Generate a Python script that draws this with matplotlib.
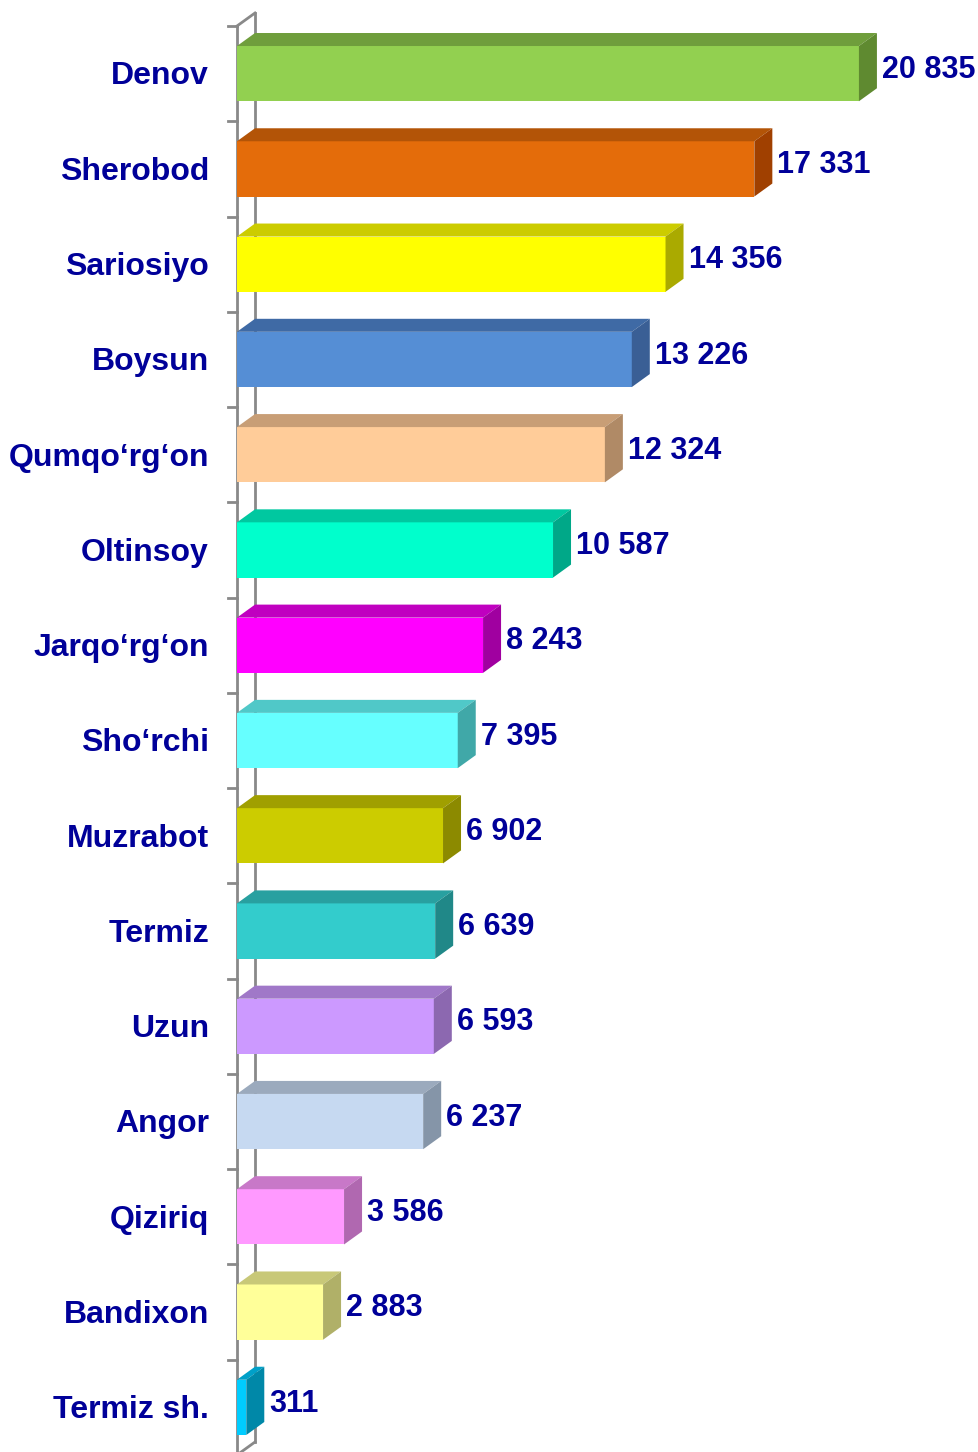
import numpy as np
import matplotlib.pyplot as plt
from matplotlib.patches import Polygon

plt.rcParams['font.family'] = ['Liberation Sans', 'DejaVu Sans']

districts = ['Denov', 'Sherobod', 'Sariosiyo', 'Boysun', 'Qumqo‘rg‘on', 'Oltinsoy',
             'Jarqo‘rg‘on', 'Sho‘rchi', 'Muzrabot', 'Termiz', 'Uzun', 'Angor',
             'Qiziriq', 'Bandixon', 'Termiz sh.']
values = [20835, 17331, 14356, 13226, 12324, 10587, 8243, 7395, 6902, 6639,
          6593, 6237, 3586, 2883, 311]
value_labels = ['20 835', '17 331', '14 356', '13 226', '12 324', '10 587', '8 243',
                '7 395', '6 902', '6 639', '6 593', '6 237', '3 586', '2 883', '311']
# front, top, side colours
front_colors = ['#92D050', '#E46C0A', '#FFFF00', '#558ED5', '#FFCC99', '#00FFCC',
                '#FF00FF', '#66FFFF', '#CCCC00', '#33CCCC', '#CC99FF', '#C6D9F1',
                '#FF99FF', '#FFFF99', '#00CCFF']
top_colors = ['#6F9E3C', '#B35407', '#CCCC00', '#3F6AA5', '#C89E76', '#00C8A0',
              '#C000C0', '#50C8C8', '#A09F00', '#28A0A0', '#A078C8', '#9BAABD',
              '#C878C8', '#C8C878', '#00A0C8']
side_colors = ['#5F8A30', '#A04000', '#AAAA00', '#3A5F95', '#B08A66', '#00A888',
               '#A000A0', '#40A8A8', '#8C8A00', '#208888', '#8C68B0', '#8595A8',
               '#B068B0', '#B0B068', '#0088A8']

navy = '#000099'
wall = '#898989'
W, H = 979, 1452
fig = plt.figure(figsize=(W / 100, H / 100), dpi=100)
ax = fig.add_axes([237 / W, -3 / H, 742 / W, 1429 / H])

n = len(values)
px = 0.02985             # pixels per unit
xmax = 742 / px
ax.set_xlim(0, xmax)
ax.set_ylim(n - 0.5, -0.5)
ax.axis('off')

dx = 18 / px             # depth in data units (x)
dy = 13 / (1429 / n)     # depth in data units (y)
h = 0.58

y = np.arange(n)
# wall
lw = 2.0
ax.plot([0, 0], [n - 0.5, -0.5], color=wall, lw=lw, clip_on=False, zorder=1)
ax.plot([dx, dx], [n - 0.5 - dy, -0.5 - dy], color=wall, lw=lw, clip_on=False, zorder=1)
ax.plot([0, dx], [-0.5, -0.5 - dy], color=wall, lw=lw, clip_on=False, zorder=1)
ax.plot([0, dx], [n - 0.5, n - 0.5 - dy], color=wall, lw=lw, clip_on=False, zorder=1)
for b in np.arange(-0.5, n, 1.0):
    ax.plot([-9 / px, 0], [b, b], color=wall, lw=lw, clip_on=False, zorder=1)

ax.barh(y, values, height=h, color=front_colors, zorder=3)
for i, v in enumerate(values):
    top = y[i] - h / 2
    bot = y[i] + h / 2
    ax.add_patch(Polygon([(0, top), (dx, top - dy), (v + dx, top - dy), (v, top)],
                         closed=True, color=top_colors[i], zorder=3, lw=0))
    ax.add_patch(Polygon([(v, top), (v + dx, top - dy), (v + dx, bot - dy), (v, bot)],
                         closed=True, color=side_colors[i], zorder=3, lw=0))
    ax.text(v + dx + 5 / px, y[i] - 0.04, value_labels[i], color=navy, fontsize=22,
            fontweight='bold', ha='left', va='center', clip_on=False)
    ax.text(-28 / px, y[i] + 0.03, districts[i], color=navy, fontsize=23,
            fontweight='bold', ha='right', va='center', clip_on=False)

fig.savefig('out.png', dpi=100)
